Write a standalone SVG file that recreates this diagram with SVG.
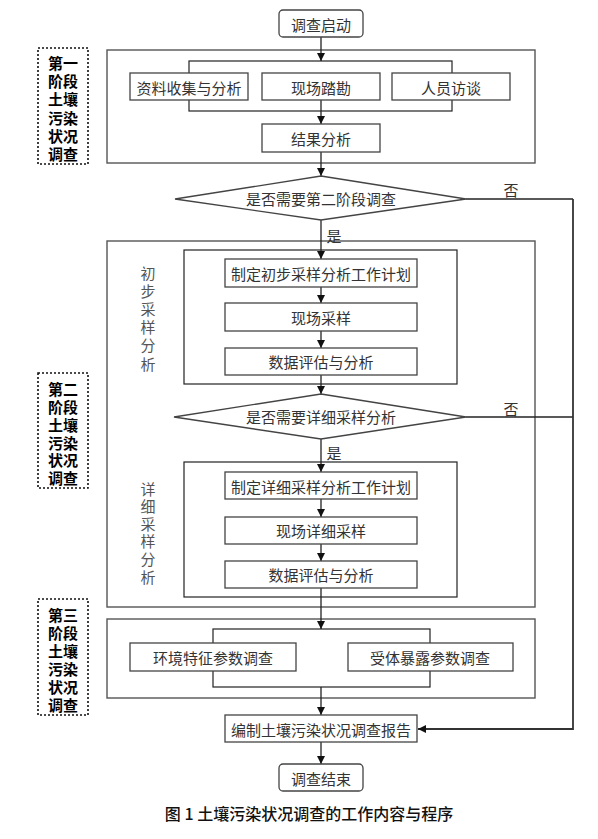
<svg xmlns="http://www.w3.org/2000/svg" width="598" height="839" viewBox="0 0 598 839">
<style>
text{font-family:"Noto Sans CJK SC","Liberation Sans",sans-serif;dominant-baseline:central;}
.t{font-size:15px;fill:#333;text-anchor:middle;}
.v{font-size:15px;fill:#555;writing-mode:vertical-rl;text-anchor:start;}
.b{font-size:15px;font-weight:bold;fill:#000;text-anchor:middle;}
.box{fill:#fff;stroke:#444;stroke-width:1.3;}
.frame{fill:none;stroke:#555;stroke-width:1.4;}
.inner{fill:none;stroke:#222;stroke-width:1.2;}
.dash{fill:#fff;stroke:#111;stroke-width:1.6;stroke-dasharray:2,2;}
.ln{fill:none;stroke:#222;stroke-width:1.3;}
.rt{fill:none;stroke:#333;stroke-width:1.8;}
</style>
<defs>
<marker id="ah" viewBox="0 0 10 10" refX="10" refY="5" markerWidth="8" markerHeight="8" markerUnits="userSpaceOnUse" orient="auto">
<path d="M0,0 L10,5 L0,10 z" fill="#111"/>
</marker>
</defs>
<rect width="598" height="839" fill="#fff"/>

<!-- frames -->
<g id="stage1-frame">
<rect class="frame" x="107" y="50" width="428" height="113"/>
<rect class="inner" x="189" y="61" width="263" height="50"/>
</g>
<g id="stage2-frame">
<rect class="frame" x="107" y="241" width="428" height="366"/>
<rect class="inner" x="184" y="250" width="273" height="134"/>
<rect class="inner" x="184" y="462" width="273" height="135"/>
<text class="v" x="148" y="265.5" style="letter-spacing:3.2px">初步采样分析</text>
<text class="v" x="148" y="481.5" style="letter-spacing:2.6px">详细采样分析</text>
</g>
<g id="stage3-frame">
<rect class="frame" x="107" y="619" width="428" height="79"/>
<rect class="inner" x="213" y="629" width="217" height="58"/>
</g>

<!-- connectors -->
<g id="connectors">
<path class="ln" d="M321,37 V61" marker-end="url(#ah)"/>
<path class="ln" d="M321,100 V124" marker-end="url(#ah)"/>
<path class="ln" d="M321,152 V176" marker-end="url(#ah)"/>
<path class="ln" d="M321,220 V259" marker-end="url(#ah)"/>
<path class="ln" d="M321,287 V303" marker-end="url(#ah)"/>
<path class="ln" d="M321,331 V348" marker-end="url(#ah)"/>
<path class="ln" d="M321,375 V394" marker-end="url(#ah)"/>
<path class="ln" d="M321,439 V472" marker-end="url(#ah)"/>
<path class="ln" d="M321,499 V517" marker-end="url(#ah)"/>
<path class="ln" d="M321,544 V561" marker-end="url(#ah)"/>
<path class="ln" d="M321,588 V629" marker-end="url(#ah)"/>
<path class="ln" d="M321,687 V715" marker-end="url(#ah)"/>
<path class="ln" d="M321,742 V764" marker-end="url(#ah)"/>
<path class="ln" d="M466,199 H573"/>
<path class="ln" d="M466,417 H573"/>
<path class="rt" d="M573,199 V729 H418" marker-end="url(#ah)"/>
<text class="t" x="511" y="189">否</text>
<text class="t" x="511" y="408">否</text>
<text class="t" x="334" y="235">是</text>
<text class="t" x="334" y="452">是</text>
</g>

<!-- side labels -->
<g id="label1">
<rect class="dash" x="38" y="48" width="50" height="116"/>
<text class="b"><tspan x="63" y="62">第一</tspan><tspan x="63" y="80">阶段</tspan><tspan x="63" y="98">土壤</tspan><tspan x="63" y="117">污染</tspan><tspan x="63" y="135">状况</tspan><tspan x="63" y="153">调查</tspan></text>
</g>
<g id="label2">
<rect class="dash" x="38" y="373" width="50" height="115"/>
<text class="b"><tspan x="63" y="388">第二</tspan><tspan x="63" y="406">阶段</tspan><tspan x="63" y="424">土壤</tspan><tspan x="63" y="442">污染</tspan><tspan x="63" y="459">状况</tspan><tspan x="63" y="477">调查</tspan></text>
</g>
<g id="label3">
<rect class="dash" x="38" y="599" width="50" height="116"/>
<text class="b"><tspan x="63" y="614">第三</tspan><tspan x="63" y="632">阶段</tspan><tspan x="63" y="650">土壤</tspan><tspan x="63" y="668">污染</tspan><tspan x="63" y="686">状况</tspan><tspan x="63" y="704">调查</tspan></text>
</g>

<!-- nodes -->
<g id="start"><rect class="box" x="279" y="10" width="84" height="27" rx="4"/><text class="t" x="321" y="24">调查启动</text></g>
<g id="n-data"><rect class="box" x="130" y="73" width="118" height="27"/><text class="t" x="189" y="87">资料收集与分析</text></g>
<g id="n-site"><rect class="box" x="262" y="73" width="118" height="27"/><text class="t" x="321" y="87">现场踏勘</text></g>
<g id="n-interview"><rect class="box" x="392" y="73" width="118" height="27"/><text class="t" x="451" y="87">人员访谈</text></g>
<g id="n-result"><rect class="box" x="262" y="124" width="118" height="28"/><text class="t" x="321" y="138">结果分析</text></g>
<g id="d1"><polygon class="box" points="321,176 466,199 321,220 175,199"/><text class="t" x="321" y="198">是否需要第二阶段调查</text></g>
<g id="n-plan1"><rect class="box" x="225" y="259" width="192" height="28"/><text class="t" x="321" y="273">制定初步采样分析工作计划</text></g>
<g id="n-samp1"><rect class="box" x="225" y="303" width="192" height="28"/><text class="t" x="321" y="317">现场采样</text></g>
<g id="n-eval1"><rect class="box" x="225" y="348" width="192" height="27"/><text class="t" x="321" y="361">数据评估与分析</text></g>
<g id="d2"><polygon class="box" points="321,394 466,417 321,439 174,417"/><text class="t" x="321" y="416">是否需要详细采样分析</text></g>
<g id="n-plan2"><rect class="box" x="225" y="472" width="192" height="27"/><text class="t" x="321" y="486">制定详细采样分析工作计划</text></g>
<g id="n-samp2"><rect class="box" x="225" y="517" width="192" height="27"/><text class="t" x="321" y="530">现场详细采样</text></g>
<g id="n-eval2"><rect class="box" x="225" y="561" width="192" height="27"/><text class="t" x="321" y="574">数据评估与分析</text></g>
<g id="n-env"><rect class="box" x="130" y="643" width="166" height="28"/><text class="t" x="213" y="657">环境特征参数调查</text></g>
<g id="n-recep"><rect class="box" x="348" y="643" width="165" height="28"/><text class="t" x="430" y="657">受体暴露参数调查</text></g>
<g id="n-report"><rect class="box" x="225" y="715" width="192" height="27"/><text class="t" x="321" y="729">编制土壤污染状况调查报告</text></g>
<g id="end"><rect class="box" x="279" y="764" width="84" height="27" rx="4"/><text class="t" x="321" y="778">调查结束</text></g>

<text x="309" y="813" style="font-size:16px;fill:#111;text-anchor:middle;font-weight:500">图 1  土壤污染状况调查的工作内容与程序</text>
</svg>
